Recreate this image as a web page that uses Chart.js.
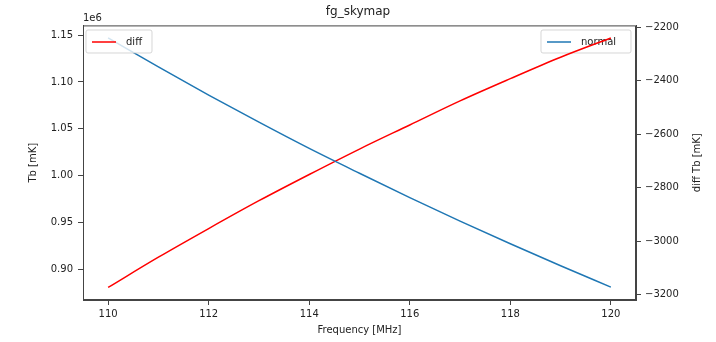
<!DOCTYPE html>
<html>
<head>
<meta charset="utf-8">
<script src="https://cdn.jsdelivr.net/npm/chart.js@4"></script>
<style>
  body { margin: 0; background: #fff; }
  #wrap { width: 716px; height: 342px; }
</style>
</head>
<body>
<div id="wrap"><canvas id="myChart" width="716" height="342"></canvas></div>
<script>
// values
const freq = [110, 111, 112, 113, 114, 115, 116, 117, 118, 119, 120];
const normalTb = [1147000, 1116000, 1086000, 1057000, 1029000, 1002500, 976600, 951500, 927300, 903900, 881000];
const diffTb = [-3173, -3060, -2953, -2849, -2751, -2656, -2566, -2476, -2393, -2313, -2241];

const xTicks = [110, 112, 114, 116, 118, 120];
const leftTicks = [900000, 950000, 1000000, 1050000, 1100000, 1150000];
const rightTicks = [-3200, -3000, -2800, -2600, -2400, -2200];

const FONT = "'DejaVu Sans', sans-serif";
const TXT = "#222";
const AX = "#444";

function ToPoints(xs, ys) {
  return xs.map((x, i) => ({ x: x, y: ys[i] }));
}

function SetTicks(values) {
  return function (axis) {
    axis.ticks = values.map(v => ({ value: v }));
  };
}

function DrawLegend(ctx, box, color, label) {
  ctx.save();
  ctx.fillStyle = "rgba(255,255,255,0.8)";
  ctx.strokeStyle = "rgba(204,204,204,0.8)";
  ctx.lineWidth = 1;
  ctx.beginPath();
  ctx.roundRect(box.x, box.y, box.w, box.h, 2);
  ctx.fill();
  ctx.stroke();
  ctx.strokeStyle = color;
  ctx.lineWidth = 1.5;
  ctx.beginPath();
  ctx.moveTo(box.x + 6, box.y + 12);
  ctx.lineTo(box.x + 30, box.y + 12);
  ctx.stroke();
  ctx.fillStyle = TXT;
  ctx.font = "10px " + FONT;
  ctx.textBaseline = "middle";
  ctx.fillText(label, box.x + 40, box.y + 12);
  ctx.restore();
}

// frame, offset text, right axis label and the two legends (in matplotlib's order)
const extras = {
  id: "extras",
  beforeDatasetDraw(chart, args) {
    if (args.index === 1) {
      DrawLegend(chart.ctx, { x: 541, y: 30, w: 90, h: 23 }, "#1f77b4", "normal");
    }
  },
  afterDatasetsDraw(chart) {
    const ctx = chart.ctx;
    const a = chart.chartArea;
    ctx.save();
    ctx.strokeStyle = AX;
    ctx.lineWidth = 1;
    ctx.strokeRect(a.left + 0.5, a.top + 0.5, a.right - a.left - 1, a.bottom - a.top - 1);
    ctx.fillStyle = TXT;
    ctx.font = "10px " + FONT;
    ctx.textBaseline = "alphabetic";
    ctx.fillText("1e6", a.left, a.top - 4);
    // right label reads bottom to top, like matplotlib
    ctx.translate(697, (a.top + a.bottom) / 2);
    ctx.rotate(-Math.PI / 2);
    ctx.textAlign = "center";
    ctx.textBaseline = "middle";
    ctx.fillText("diff Tb [mK]", 0, 0);
    ctx.restore();
    DrawLegend(ctx, { x: 86, y: 30, w: 66, h: 23 }, "#ff0000", "diff");
  }
};

const ctx = document.getElementById("myChart");

const chart = new Chart(ctx, {
  type: "line",
  data: {
    datasets: [
      {
        label: "normal",
        data: ToPoints(freq, normalTb),
        borderColor: "#1f77b4",
        borderWidth: 1.5,
        pointRadius: 0,
        cubicInterpolationMode: "monotone",
        yAxisID: "y"
      },
      {
        label: "diff",
        data: ToPoints(freq, diffTb),
        borderColor: "#ff0000",
        borderWidth: 1.5,
        pointRadius: 0,
        cubicInterpolationMode: "monotone",
        yAxisID: "y1"
      }
    ]
  },
  options: {
    responsive: false,
    animation: false,
    layout: { padding: 0 },
    plugins: {
      legend: { display: false },
      tooltip: { enabled: false },
      title: {
        display: true,
        text: "fg_skymap",
        color: TXT,
        font: { family: FONT, size: 12, weight: "normal" },
        padding: { top: 5, bottom: 6 }
      }
    },
    scales: {
      x: {
        type: "linear",
        min: 109.5,
        max: 120.5,
        afterBuildTicks: SetTicks(xTicks),
        afterFit: (s) => { s.height = 42; },
        border: { color: AX },
        grid: { drawOnChartArea: false, tickLength: 5, tickColor: AX },
        ticks: { color: TXT, font: { family: FONT, size: 10 }, padding: 3, maxRotation: 0 },
        title: {
          display: true,
          text: "Frequency [MHz]",
          color: TXT,
          font: { family: FONT, size: 10 },
          padding: { top: 0, bottom: 6 }
        }
      },
      y: {
        position: "left",
        min: 867300,
        max: 1160300,
        afterBuildTicks: SetTicks(leftTicks),
        afterFit: (s) => { s.width = 83; },
        border: { color: AX },
        grid: { drawOnChartArea: false, tickLength: 5, tickColor: AX },
        ticks: {
          color: TXT,
          font: { family: FONT, size: 10 },
          padding: 5,
          callback: (v) => (v / 1e6).toFixed(2)
        },
        title: {
          display: true,
          text: "Tb [mK]",
          color: TXT,
          font: { family: FONT, size: 10 },
          padding: { top: 27, bottom: 0 }
        }
      },
      y1: {
        position: "right",
        min: -3220,
        max: -2194,
        afterBuildTicks: SetTicks(rightTicks),
        afterFit: (s) => { s.width = 80; },
        border: { color: AX },
        grid: { drawOnChartArea: false, tickLength: 5, tickColor: AX },
        ticks: {
          color: TXT,
          font: { family: FONT, size: 10 },
          padding: 4,
          callback: (v) => (v < 0 ? "\u2212" + Math.abs(v) : "" + v)
        },
        title: { display: false }
      }
    }
  },
  plugins: [extras]
});
</script>
</body>
</html>
